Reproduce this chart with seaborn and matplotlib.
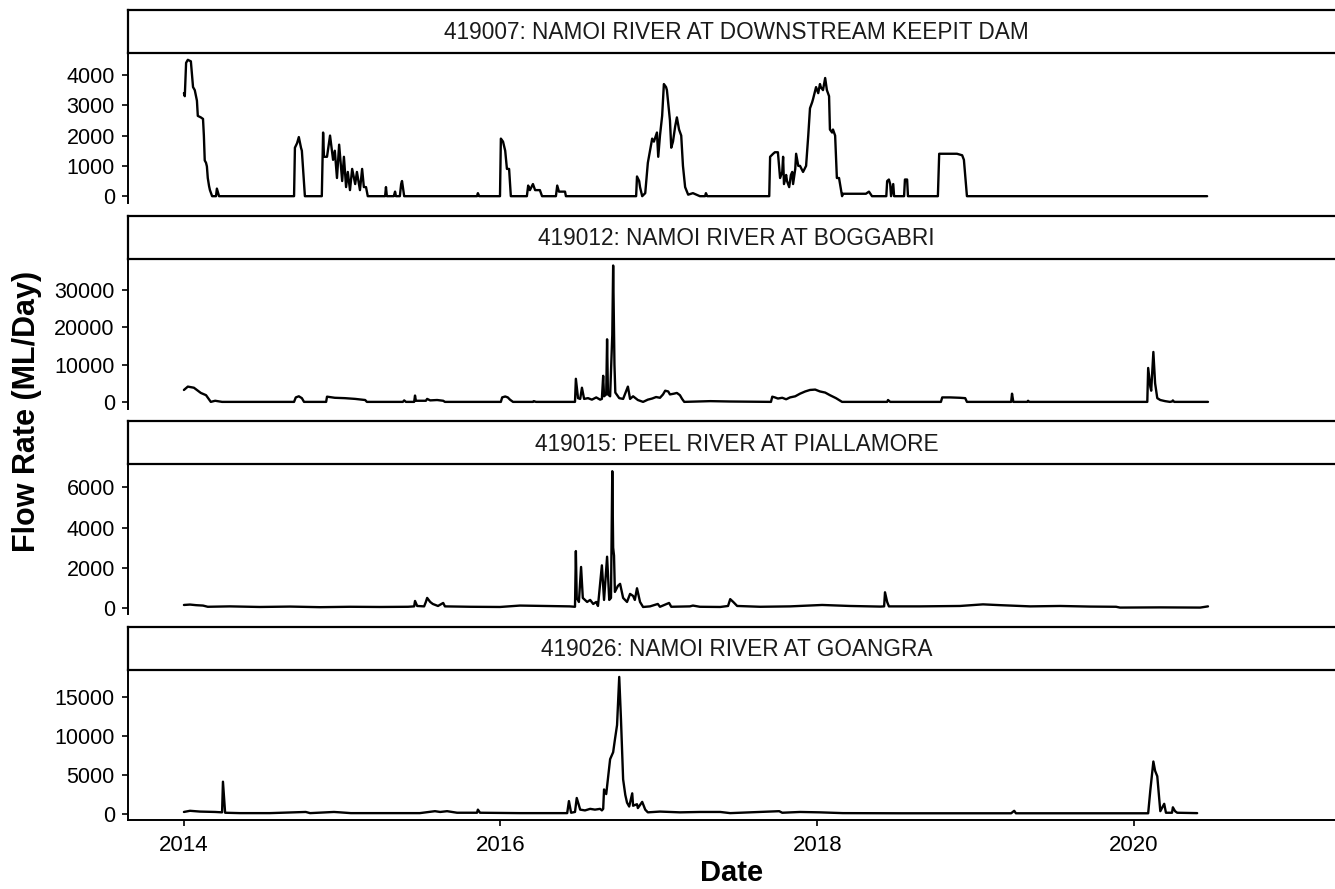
import numpy as np
import pandas as pd
import matplotlib
matplotlib.use("Agg")
import matplotlib.pyplot as plt
import seaborn as sns

# ---------------- data (days since 2014-01-01, flow ML/day) ----------------
START = "2014-01-01"

STATIONS = [
    "419007: NAMOI RIVER AT DOWNSTREAM KEEPIT DAM",
    "419012: NAMOI RIVER AT BOGGABRI",
    "419015: PEEL RIVER AT PIALLAMORE",
    "419026: NAMOI RIVER AT GOANGRA",
]

days_419007 = [0, 2, 5, 9, 16, 21, 25, 30, 32, 39, 44, 46, 48, 51, 53, 55, 58, 60, 65, 74, 76, 81,
               254, 256, 261, 265, 270, 272, 279,
               318, 321, 323, 330, 337, 344, 348, 353, 358, 365, 369, 374, 378, 383, 388, 395, 399,
               406, 411, 415, 420, 424,
               464, 466, 468, 484, 487, 489, 498, 501, 503, 505, 508,
               676, 678, 681, 729, 731, 736, 741, 745, 750, 754,
               791, 794, 798, 805, 810, 821, 826, 858, 861, 865, 879, 881,
               1043, 1045, 1050, 1052, 1057, 1064, 1070, 1075, 1080, 1084, 1091, 1094, 1098, 1103,
               1107, 1112, 1114, 1119, 1121, 1124, 1128, 1133, 1137, 1142, 1147, 1151, 1156, 1163,
               1174, 1190, 1202, 1204, 1207,
               1350, 1352, 1359, 1363, 1370, 1375, 1380, 1382, 1384, 1389, 1391, 1396, 1400, 1403,
               1405, 1410, 1412, 1417, 1421, 1428, 1435, 1440, 1444, 1449, 1451, 1458, 1463, 1467,
               1469, 1474, 1479, 1483, 1488, 1490, 1495, 1497, 1502, 1506, 1511, 1518, 1520, 1573,
               1580, 1587, 1620, 1622, 1626, 1629, 1631, 1636, 1638, 1661, 1663, 1668, 1670,
               1739, 1742, 1783, 1795, 1799, 1806, 2360]
flow_419007 = [3400, 3300, 4400, 4500, 4450, 3600, 3500, 3150, 2650, 2600, 2550, 2000, 1180, 1100, 980, 600, 330, 200, 0, 0, 250, 0,
               0, 1600, 1750, 1950, 1600, 1500, 0,
               0, 2100, 1300, 1300, 2000, 1200, 1500, 600, 1700, 500, 1300, 300, 800, 200, 900, 400, 800,
               200, 900, 300, 300, 0,
               0, 300, 0, 0, 150, 0, 0, 400, 500, 300, 0,
               0, 100, 0, 0, 1900, 1800, 1500, 900, 900, 0,
               0, 350, 200, 400, 200, 200, 0, 0, 350, 150, 150, 0,
               0, 650, 500, 300, 0, 100, 1100, 1500, 1900, 1800, 2100, 1300, 2000, 2650,
               3700, 3600, 3500, 2800, 2500, 1600, 1800, 2300, 2600, 2200, 2000, 1000, 300, 50,
               100, 0, 0, 100, 0,
               0, 1300, 1400, 1450, 1450, 600, 800, 1300, 400, 700, 500, 300, 700, 800,
               400, 900, 1400, 1000, 1000, 800, 1000, 2000, 2900, 3100, 3200, 3600, 3400, 3700,
               3600, 3500, 3900, 3500, 3300, 2200, 2100, 2200, 2000, 600, 600, 0, 80, 80,
               150, 0, 0, 500, 550, 400, 0, 400, 0, 0, 550, 550, 0,
               0, 1400, 1400, 1350, 1200, 0, 0]

days_419012 = [0, 9, 23, 39, 51, 62, 72, 88,
               254, 258, 265, 272, 277,
               328, 330, 348, 371, 395, 418, 422,
               505, 508, 512, 531, 533, 535, 558, 561, 568, 584, 598, 602,
               731, 734, 741, 747, 752, 759, 805, 807, 812,
               902, 904, 909, 914, 918, 923, 932, 941, 951, 960, 964, 967, 969, 974, 976, 978, 983,
               988, 990, 992, 993, 995, 1004, 1013, 1024, 1029, 1036, 1047, 1059, 1070, 1080, 1089,
               1098, 1105, 1110, 1117, 1121, 1130, 1137, 1144, 1149, 1154, 1214, 1260,
               1354, 1357, 1363, 1370, 1380, 1389, 1398, 1410, 1421, 1433, 1444, 1456, 1467, 1479,
               1490, 1504, 1518, 1622, 1624, 1629,
               1746, 1749, 1767, 1790, 1802, 1806, 1908, 1910, 1913, 1945, 1947, 1950,
               2222, 2224, 2229, 2231, 2236, 2240, 2245, 2252, 2263, 2274, 2279, 2281, 2284, 2362]
flow_419012 = [3200, 4100, 3800, 2400, 1800, 0, 300, 0,
               0, 1200, 1500, 1000, 0,
               0, 1400, 1100, 1000, 800, 500, 0,
               0, 400, 0, 0, 1700, 300, 300, 800, 400, 500, 300, 0,
               0, 1200, 1450, 1200, 600, 0, 0, 200, 0,
               0, 6200, 1000, 800, 3800, 800, 1000, 600, 1200, 600, 800, 7000, 1500, 2000, 16800, 2000, 1500,
               18000, 36600, 19000, 10000, 2500, 1000, 800, 4100, 800, 1500, 500, 0, 600, 900, 1300,
               1100, 2000, 3000, 2800, 2000, 2200, 2400, 1800, 800, 0, 200, 100,
               0, 1400, 1200, 900, 1100, 700, 1200, 1500, 2200, 2800, 3200, 3300, 2800, 2500,
               1800, 1000, 0, 0, 500, 0,
               0, 1200, 1200, 1100, 1000, 0, 0, 2200, 0, 0, 300, 0,
               0, 9100, 4000, 3000, 13400, 5000, 1000, 500, 200, 0, 100, 400, 0, 0]

days_419015 = [0, 14, 28, 44, 55, 106, 175, 245, 314, 383, 452, 517, 531, 533, 538, 554, 558, 561,
               568, 574, 586, 598, 602, 660, 729, 775, 833, 890, 902, 904, 906, 911, 916, 920, 930,
               937, 944, 951, 955, 964, 969, 976, 981, 985, 988, 990, 992, 994, 1001, 1006, 1013,
               1022, 1029, 1036, 1040, 1045, 1052, 1059, 1075, 1093, 1098, 1119, 1124, 1167, 1174,
               1190, 1237, 1255, 1260, 1267, 1276, 1329, 1398, 1472, 1536, 1606, 1615, 1617, 1622,
               1626, 1698, 1790, 1843, 1883, 1952, 2021, 2090, 2150, 2159, 2252, 2344, 2362]
flow_419015 = [150, 170, 140, 120, 60, 80, 50, 70, 40, 60, 50, 60, 80, 350, 100, 80, 300, 500,
               300, 200, 100, 250, 80, 60, 50, 120, 100, 80, 60, 2830, 500, 300, 2040, 500, 300,
               400, 200, 300, 100, 2120, 400, 2550, 400, 500, 6800, 3000, 2600, 800, 1100, 1200, 500,
               300, 700, 600, 400, 980, 300, 50, 80, 200, 60, 250, 60, 80, 120,
               60, 50, 100, 440, 300, 100, 60, 80, 150, 100, 70, 80, 780, 300,
               80, 80, 100, 180, 140, 80, 100, 70, 60, 20, 30, 20, 80]

days_419026 = [0, 14, 37, 72, 88, 90, 95, 129, 198, 281, 291, 346, 360, 385, 544, 565, 579, 591,
               607, 630, 676, 678, 683, 775, 884, 888, 893, 902, 906, 914, 925, 937, 948, 960, 964,
               967, 969, 974, 978, 983, 990, 994, 999, 1004, 1008, 1013, 1018, 1022, 1027, 1034,
               1036, 1045, 1047, 1057, 1064, 1070, 1098, 1121, 1144, 1190, 1237, 1260, 1373, 1380,
               1421, 1467, 1520, 1652, 1908, 1915, 1919, 2224, 2229, 2236, 2240, 2245, 2252, 2261,
               2265, 2279, 2281, 2286, 2291, 2337]
flow_419026 = [200, 350, 250, 200, 150, 4100, 100, 50, 50, 200, 50, 200, 150, 50, 50, 200, 300, 200,
               300, 100, 100, 500, 100, 50, 50, 1600, 100, 200, 2000, 500, 400, 600, 500, 600, 400,
               600, 3100, 2500, 4500, 7000, 7900, 9500, 11400, 17600, 12200, 4400, 2400, 1400, 900, 2600,
               1000, 1200, 700, 1500, 500, 150, 250, 200, 150, 200, 200, 50, 300, 100,
               200, 150, 50, 30, 30, 350, 30, 30, 3000, 6700, 5500, 4800, 300, 1250,
               100, 100, 800, 300, 100, 50]

SERIES_DAYS = [days_419007, days_419012, days_419015, days_419026]
SERIES_FLOW = [flow_419007, flow_419012, flow_419015, flow_419026]

Y_TICKS = [[0, 1000, 2000, 3000, 4000],
           [0, 10000, 20000, 30000],
           [0, 2000, 4000, 6000],
           [0, 5000, 10000, 15000]]
X_TICK_YEARS = ["2014", "2016", "2018", "2020"]

X_LABEL = "Date"
Y_LABEL = "Flow Rate (ML/Day)"

# ---------------- style ----------------
sns.set_theme(style="ticks")
plt.rcParams["font.family"] = ["Liberation Sans", "DejaVu Sans"]

W, H = 1335, 889
fig = plt.figure(figsize=(W / 100, H / 100), dpi=100)

left_px, right_px = 128, 1345
plot_top0 = 53
pitch = 205.7
plot_h = 150
strip_h = 43

start = pd.Timestamp(START)
xlim = (start + pd.Timedelta(days=-129), start + pd.Timedelta(days=2678))

def fr(x0, y0, x1, y1):
    return [x0 / W, 1 - y1 / H, (x1 - x0) / W, (y1 - y0) / H]

TICK_FS = 15.5
for i in range(4):
    top = plot_top0 + i * pitch
    ax = fig.add_axes(fr(left_px, top, right_px, top + plot_h))
    sax = fig.add_axes(fr(left_px, top - strip_h, right_px, top))

    df = pd.DataFrame({
        "Date": start + pd.to_timedelta(SERIES_DAYS[i], unit="D"),
        "Flow": SERIES_FLOW[i],
    })
    sns.lineplot(data=df, x="Date", y="Flow", ax=ax, color="black", linewidth=1.7)

    vmin, vmax = df["Flow"].min(), df["Flow"].max()
    rng = vmax - vmin
    ax.set_ylim(vmin - 0.05 * rng, vmax + 0.05 * rng)
    ax.set_xlim(*xlim)
    ax.set_yticks(Y_TICKS[i])
    ax.set_yticklabels([str(t) for t in Y_TICKS[i]], fontsize=TICK_FS, color="black")
    ax.set_xlabel("")
    ax.set_ylabel("")
    for s in ["top", "right"]:
        ax.spines[s].set_visible(False)
    ax.spines["left"].set_linewidth(1.4)
    ax.spines["left"].set_color("black")
    ax.tick_params(axis="y", length=4.5, width=1.2, color="black", pad=5)
    if i < 3:
        ax.spines["bottom"].set_visible(False)
        ax.set_xticks([])
    else:
        ax.spines["bottom"].set_linewidth(1.4)
        ax.spines["bottom"].set_color("black")
        ax.set_xticks([pd.Timestamp(f"{y}-01-01") for y in X_TICK_YEARS])
        ax.set_xticklabels(X_TICK_YEARS, fontsize=TICK_FS + 0.5, color="black")
        ax.tick_params(axis="x", length=4.5, width=1.2, color="black", pad=6)
    ax.set_facecolor("white")

    sax.set_xticks([])
    sax.set_yticks([])
    for s in sax.spines.values():
        s.set_linewidth(1.6)
        s.set_color("black")
    sax.set_facecolor("white")
    sax.text(0.5, 0.47, STATIONS[i], ha="center", va="center", fontsize=16.3,
             color="#1a1a1a", transform=sax.transAxes)

fig.text((left_px + 1335) / 2 / W, 1 - 873 / H, X_LABEL, ha="center", va="center",
         fontsize=21, fontweight="bold", color="black")
fig.text(27 / W, 1 - 411 / H, Y_LABEL, ha="center", va="center", rotation=90,
         fontsize=22, fontweight="bold", color="black")

fig.savefig("out.png", dpi=100, facecolor="white")
